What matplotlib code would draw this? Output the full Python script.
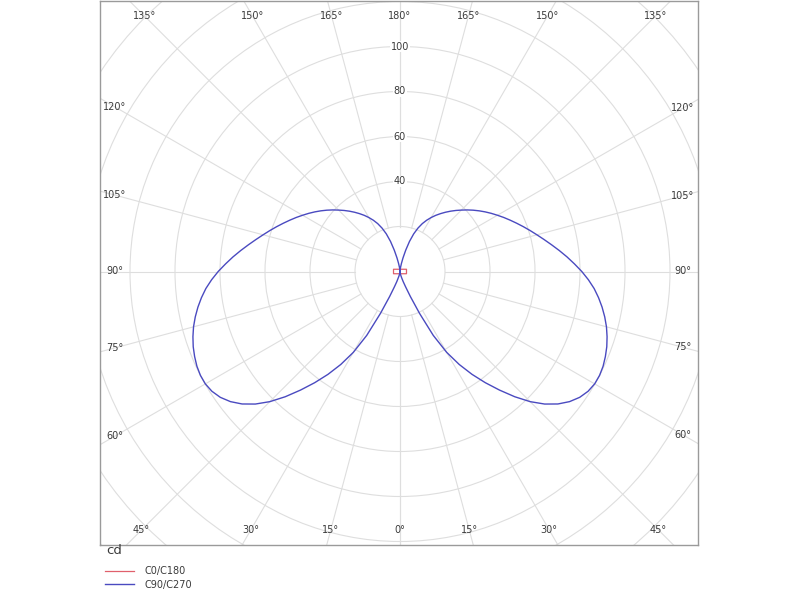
import numpy as np
import matplotlib
matplotlib.use('Agg')
import matplotlib.pyplot as plt
from matplotlib.patches import Circle

# luminous intensity curves, gamma measured from nadir (deg) -> cd
gamma_c90 = [0, 2.5, 5, 7.5, 10, 12.5, 15, 17.5, 20, 22.5, 25, 27.5, 30,
             32.5, 35, 37.5, 40, 42.5, 45, 47.5, 50, 52.5, 55, 57.5, 60,
             62.5, 65, 67.5, 70, 72.5, 75, 77.5, 80, 82.5, 85, 87.5, 90,
             92.5, 95, 97.5, 100, 102.5, 105, 107.5, 110, 112.5, 115, 117.5,
             120, 122.5, 125, 127.5, 130, 132.5, 135, 137.5, 140, 142.5, 145,
             147.5, 150, 152.5, 155, 157.5, 160, 162.5, 165, 167.5, 170,
             172.5, 175, 177.5, 180]
cd_c90 = [0, 0.1, 0.4, 0.8, 1.3, 2, 3, 4.7, 7.2, 12, 20.5, 32, 41.5,
          49, 55.8, 62.3, 68.8, 75.5, 81.8, 87.2, 91.6, 95, 97.5, 99.1, 99.9,
          100, 99.6, 98.8, 97.8, 96.5, 95, 93.2, 91.2, 89, 86.6, 83.8, 80.8,
          77.6, 74.5, 71.4, 68.4, 65.6, 63, 60.6, 58.3, 56.1, 54, 52,
          50, 48.1, 46.2, 44.3, 42.4, 40.5, 38.6, 36.8, 35, 33.2, 31.4,
          29.6, 27.7, 25.7, 23.5, 20.9, 17.8, 14, 9.8, 6.2, 3.6,
          1.9, 0.9, 0.3, 0]

gamma_c0 = [0, 71, 109, 180]
cd_c0 = [1.0, 3.05, 3.05, 1.0]

grid_radii = [20, 40, 60, 80, 100, 120, 140, 160, 180, 200]
radius_labels = [40, 60, 80, 100]
spoke_angles = list(range(0, 181, 15))

PX = 2.25  # pixels per cd
grid_col = '#dedede'
text_col = '#3a3a3a'


def to_xy(gamma, cd, side):
    g = np.radians(np.asarray(gamma, dtype=float))
    r = np.asarray(cd, dtype=float)
    return side * r * np.sin(g), -r * np.cos(g)


def closed_curve(gamma, cd):
    xr, yr = to_xy(gamma, cd, 1)
    xl, yl = to_xy(gamma[::-1], cd[::-1], -1)
    return np.concatenate([xr, xl]), np.concatenate([yr, yl])


fig = plt.figure(figsize=(8, 6), dpi=100)
ax = fig.add_axes([100 / 800, 55 / 600, 598 / 800, 544 / 600])

xmin, xmax = -300 / PX, 298 / PX
ymin, ymax = -273.5 / PX, 270.5 / PX
ax.set_xlim(xmin, xmax)
ax.set_ylim(ymin, ymax)
ax.set_xticks([])
ax.set_yticks([])
for sp in ax.spines.values():
    sp.set_color('#9a9a9a')
    sp.set_linewidth(1.0)

# grid circles
for r in grid_radii:
    ax.add_patch(Circle((0, 0), r, fill=False, ec=grid_col, lw=0.8, zorder=1))

# spokes
for g in spoke_angles:
    for side in (1, -1):
        x, y = to_xy([g, g], [20, 250], side)
        ax.plot(x, y, color=grid_col, lw=0.8, zorder=1)

# angle labels, placed on an inset rectangle along each spoke
pad = 15 / PX
bx0, bx1 = xmin + pad, xmax - pad
by0, by1 = ymin + pad, ymax - pad
for g in spoke_angles:
    sides = (1,) if g in (0, 180) else (1, -1)
    for side in sides:
        dx = side * np.sin(np.radians(g))
        dy = -np.cos(np.radians(g))
        ts = []
        if dx > 1e-9:
            ts.append(bx1 / dx)
        if dx < -1e-9:
            ts.append(bx0 / dx)
        if dy > 1e-9:
            ts.append(by1 / dy)
        if dy < -1e-9:
            ts.append(by0 / dy)
        t = min(ts)
        ax.text(t * dx, t * dy, f'{g}°', ha='center', va='center',
                fontsize=7, color=text_col, zorder=3)

# radius labels
for r in radius_labels:
    ax.text(0, r, str(r), ha='center', va='center', fontsize=7, color=text_col,
            zorder=3, bbox=dict(boxstyle='square,pad=0.1', fc='white', ec='none'))

x0, y0 = closed_curve(gamma_c0, cd_c0)
x90, y90 = closed_curve(gamma_c90, cd_c90)
l0, = ax.plot(x0, y0, color='#e0606c', lw=0.9, zorder=4, label='C0/C180')
l90, = ax.plot(x90, y90, color='#4a4ac0', lw=1.0, zorder=5, label='C90/C270')

fig.text(106 / 800, 1 - 551 / 600, 'cd', ha='left', va='center',
         fontsize=9.5, color=text_col)
fig.legend(handles=[l0, l90], loc='upper left',
           bbox_to_anchor=(105 / 800, 1 - 566 / 600), frameon=False,
           fontsize=7, handlelength=3.0, handletextpad=1.1,
           labelspacing=0.4, borderpad=0, borderaxespad=0,
           labelcolor=text_col)

fig.savefig('out.png', dpi=100)
